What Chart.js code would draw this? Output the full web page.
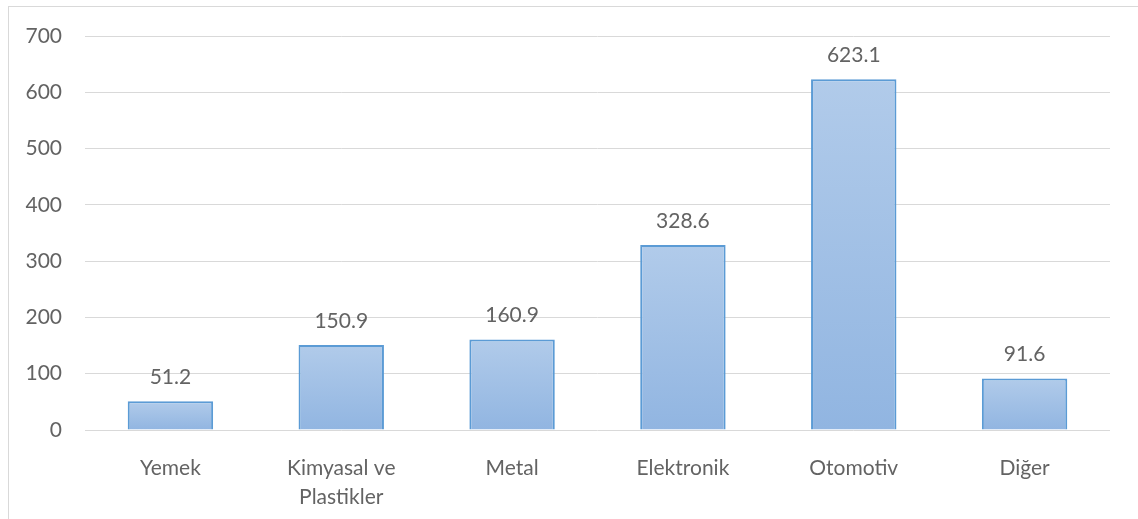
<!DOCTYPE html>
<html>
<head>
<meta charset="utf-8">
<script src="https://cdn.jsdelivr.net/npm/chart.js@4"></script>
<style>
    html, body { margin: 0; padding: 0; background: #fff; overflow: hidden; }
    #frame { position: absolute; left: 8px; top: 6px; width: 1200px; height: 600px; border: 1px solid #d9d9d9; }
    #wrap { position: absolute; left: 0; top: 0; width: 1138px; height: 519px; }
</style>
</head>
<body>
<div id="frame"></div>
<div id="wrap"><canvas id="chart"></canvas></div>
<script>
const categories = ['Yemek', ['Kimyasal ve', 'Plastikler'], 'Metal', 'Elektronik', 'Otomotiv', 'Diğer'];
const values = [51.2, 150.9, 160.9, 328.6, 623.1, 91.6];
const yTicks = [0, 100, 200, 300, 400, 500, 600, 700];

const textColor = '#636363';
const fontFamily = 'Lato, "Open Sans", sans-serif';
const fontSize = 21;

// vertical gradient spanning each bar, light at top, darker at the base
function barGradient(context) {
    const chart = context.chart;
    const y = chart.scales.y;
    if (!y || context.raw === undefined) return '#a3c1e6';
    const top = y.getPixelForValue(context.raw);
    const base = y.getPixelForValue(0);
    if (!isFinite(top) || !isFinite(base) || top === base) return '#a3c1e6';
    const g = chart.ctx.createLinearGradient(0, top, 0, base);
    g.addColorStop(0, '#b1cbea');
    g.addColorStop(1, '#91b5e1');
    return g;
}

const valueLabels = {
    id: 'valueLabels',
    afterDatasetsDraw(chart) {
        const ctx = chart.ctx;
        const meta = chart.getDatasetMeta(0);
        ctx.save();
        ctx.font = fontSize + 'px ' + fontFamily;
        ctx.fillStyle = textColor;
        ctx.textAlign = 'center';
        ctx.textBaseline = 'alphabetic';
        meta.data.forEach((bar, i) => {
            ctx.fillText(values[i].toFixed(1), bar.x, bar.y - 17);
        });
        ctx.restore();
    }
};

new Chart(document.getElementById('chart'), {
    type: 'bar',
    data: {
        labels: categories,
        datasets: [{
            data: values,
            backgroundColor: barGradient,
            borderColor: '#5b9bd5',
            borderWidth: 2,
            borderSkipped: 'bottom',
            categoryPercentage: 1,
            barPercentage: 0.5
        }]
    },
    plugins: [valueLabels],
    options: {
        responsive: true,
        maintainAspectRatio: false,
        animation: false,
        layout: { padding: { top: 36, right: 28, left: 0, bottom: 0 } },
        plugins: {
            legend: { display: false },
            tooltip: { enabled: false }
        },
        scales: {
            x: {
                grid: { display: false },
                border: { display: false },
                ticks: {
                    color: textColor,
                    font: { family: fontFamily, size: fontSize, lineHeight: 1.38 },
                    padding: 16,
                    maxRotation: 0,
                    autoSkip: false
                },
                afterFit(scale) { scale.height = 89; }
            },
            y: {
                min: 0,
                max: 700,
                afterBuildTicks(scale) { scale.ticks = yTicks.map(v => ({ value: v })); },
                grid: { color: '#d9d9d9', lineWidth: 1, drawTicks: false },
                border: { display: false },
                ticks: {
                    color: textColor,
                    font: { family: fontFamily, size: fontSize },
                    padding: 23
                },
                afterFit(scale) { scale.width = 85; }
            }
        }
    }
});
</script>
</body>
</html>
